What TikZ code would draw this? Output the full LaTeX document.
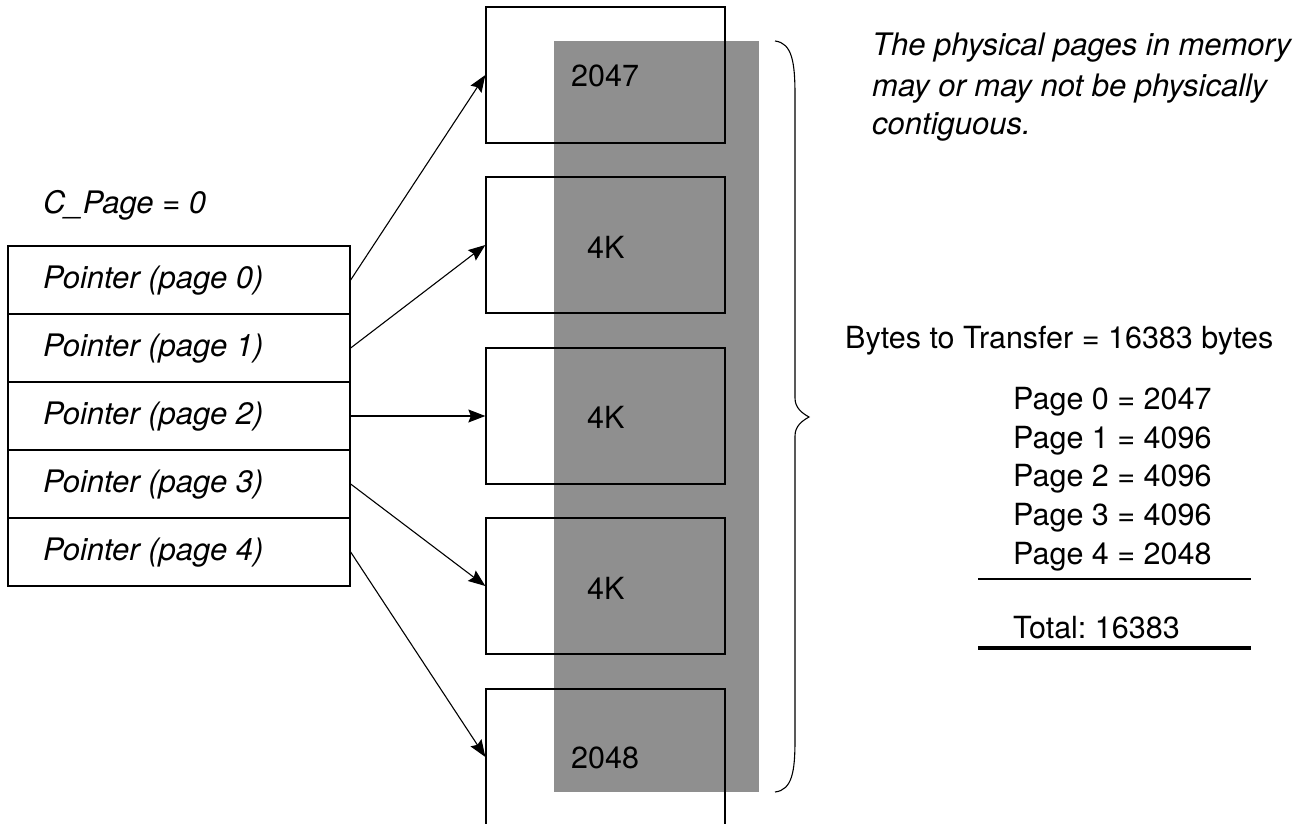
\documentclass[tikz,border=0pt]{standalone}
\usepackage{fontspec}
\setmainfont{TeX Gyre Heros}
\usetikzlibrary{arrows.meta}
\definecolor{bandgray}{HTML}{8F8F8F}
\frenchspacing
\tikzset{
  every node/.style={font=\fontsize{30.5}{39}\selectfont, inner sep=0pt},
  rowbox/.style={draw, line width=1.3pt, minimum width=342pt, minimum height=68pt},
  pagebox/.style={draw, line width=1.3pt, minimum width=239pt, minimum height=136pt},
  txt/.style={anchor=base west},
  itxt/.style={anchor=base west, font=\fontsize{31}{39}\selectfont\itshape},
  arr/.style={line width=1.1pt, -{Stealth[length=17pt,width=13pt,inset=2.5pt]}}
}
\begin{document}
\begin{tikzpicture}[x=1pt,y=-1pt]
\useasboundingbox (0,0) rectangle (1307,824);
\clip (0,0) rectangle (1307,824);
% gray band
\fill[bandgray] (554,41) rectangle (759,792);
% page boxes
\node[pagebox] (b1) at (605.5,75) {};
\node[pagebox] (b2) at (605.5,245) {};
\node[pagebox] (b3) at (605.5,416) {};
\node[pagebox] (b4) at (605.5,586) {};
\node[pagebox] (b5) at (605.5,757) {};
\node[txt] (l1) at (571,87) {2047};
\node[txt] (l2) at (587,258) {4K};
\node[txt] (l3) at (587,428) {4K};
\node[txt] (l4) at (587,599) {4K};
\node[txt] (l5) at (571,768) {2048};
% pointer table
\node[itxt] (cp) at (43,213) {C\_Page = 0};
\node[rowbox] (p0) at (179,280) {};
\node[rowbox] (p1) at (179,348) {};
\node[rowbox] (p2) at (179,416) {};
\node[rowbox] (p3) at (179,484) {};
\node[rowbox] (p4) at (179,552) {};
\node[itxt] (t0) at (43,288) {Pointer (page 0)};
\node[itxt] (t1) at (43,356) {Pointer (page 1)};
\node[itxt] (t2) at (43,424) {Pointer (page 2)};
\node[itxt] (t3) at (43,492) {Pointer (page 3)};
\node[itxt] (t4) at (43,560) {Pointer (page 4)};
% arrows
\draw[arr] (p0.east) -- (b1.west);
\draw[arr] (p1.east) -- (b2.west);
\draw[arr] (p2.east) -- (b3.west);
\draw[arr] (p3.east) -- (b4.west);
\draw[arr] (p4.east) -- (b5.west);
% brace
\draw[line width=1.1pt] (775,41) .. controls (792,43) and (795,62) .. (795,95)
  -- (795,398) .. controls (795,408) and (802,413) .. (809,417)
  .. controls (802,421) and (795,426) .. (795,436)
  -- (795,740) .. controls (795,772) and (792,790) .. (775,792);
% right texts
\node[itxt] (n1) at (872,56) {The physical pages in memory};
\node[itxt] (n2) at (872,97) {may or may not be physically};
\node[itxt] (n3) at (872,135) {contiguous.};
\node[txt] (bt) at (845,348) {Bytes to Transfer = 16383 bytes};
\node[txt] (g0) at (1013,409) {Page 0 = 2047};
\node[txt] (g1) at (1013,448) {Page 1 = 4096};
\node[txt] (g2) at (1013,486) {Page 2 = 4096};
\node[txt] (g3) at (1013,525) {Page 3 = 4096};
\node[txt] (g4) at (1013,564) {Page 4 = 2048};
\draw[line width=1.2pt] (978,579) -- (1251,579);
\node[txt] (tot) at (1013,638) {Total: 16383};
\draw[line width=4pt] (978,648) -- (1251,648);
\end{tikzpicture}
\end{document}
